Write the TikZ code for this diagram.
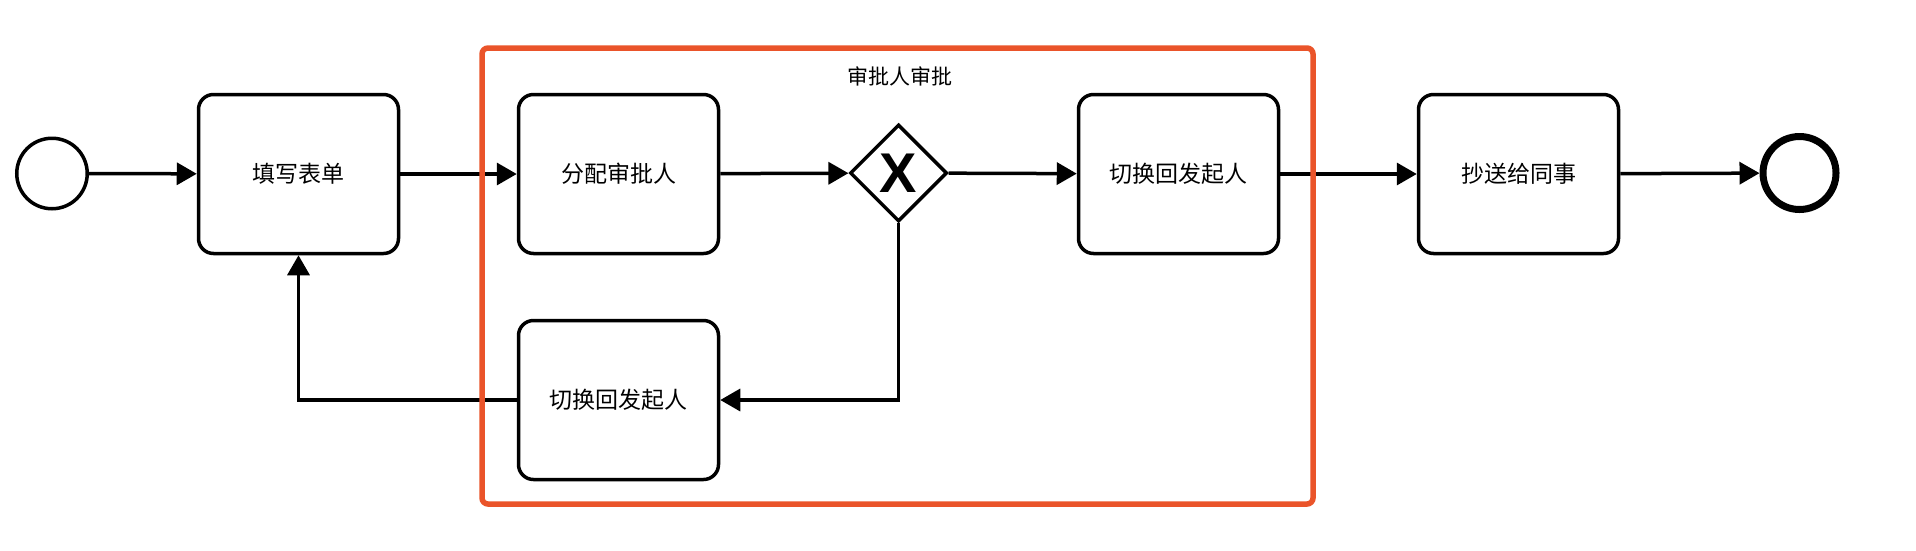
\documentclass[tikz,border=0pt]{standalone}
\usepackage{fontspec}
\setmainfont{Noto Sans CJK SC}
\newfontfamily\xfont{Liberation Sans}
\usetikzlibrary{arrows.meta,shapes.geometric}
\definecolor{poolred}{RGB}{234,84,42}
\tikzset{
  task/.style={draw=black, fill=white, line width=3.5pt, rounded corners=15pt,
    minimum width=200pt, minimum height=159pt, inner sep=0pt,
    font=\fontsize{23}{23}\selectfont},
  flow/.style={line width=3.5pt, -{Triangle[length=20pt,width=22pt]}},
  plain/.style={line width=3.5pt},
}
\begin{document}
\begin{tikzpicture}[x=1pt,y=-1pt]
\useasboundingbox (0,0) rectangle (1916,550);
\node[circle, draw, line width=3.5pt, minimum size=70.5pt, inner sep=0pt] (start) at (52,173.5) {};
\node[task] (t1) at (298.5,174) {填写表单};
\node[task] (t2) at (618.5,174) {分配审批人};
\node[diamond, draw, fill=white, line width=3.5pt, minimum width=97pt, minimum height=97pt, inner sep=0pt,
  font=\xfont\bfseries\fontsize{56}{56}\selectfont] (gw) at (898.5,173) {X};
\node[task] (t3) at (1178.5,174) {切换回发起人};
\node[task] (t4) at (1518.5,174) {抄送给同事};
\node[circle, draw, line width=7pt, minimum size=73pt, inner sep=0pt] (end) at (1799.5,173) {};
\node[task] (low) at (618.5,400) {切换回发起人};
\draw[flow] (start) -- (t1);
\draw[flow] (t1) -- (t2);
\draw[flow] (t2) -- (gw);
\draw[flow] (gw) -- (t3);
\draw[flow] (t3) -- (t4);
\draw[flow] (t4) -- (end);
\draw[flow] (gw.south) |- (low.east);
\draw[flow] (low.west) -| (t1.south);
\node[draw=poolred, line width=5.5pt, rounded corners=6pt, minimum width=831pt, minimum height=456pt, inner sep=0pt] (pool) at (897.5,276) {};
\node[font=\fontsize{21}{21}\selectfont, inner sep=0pt] (poollabel) at (899.5,76) {审批人审批};
\end{tikzpicture}
\end{document}
